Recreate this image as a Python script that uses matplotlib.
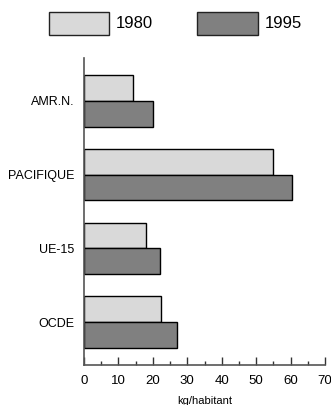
import matplotlib
matplotlib.use("Agg")
import matplotlib.pyplot as plt
from matplotlib.patches import Rectangle
from matplotlib.ticker import MultipleLocator
import numpy as np

categories = ["AMR.N.", "PACIFIQUE", "UE-15", "OCDE"]
values_1980 = [14.3, 54.8, 17.9, 22.5]
values_1995 = [20.1, 60.4, 22.2, 26.9]
series_labels = ["1980", "1995"]
xlabel = "kg/habitant"

plt.rcParams["font.family"] = ["Liberation Sans", "DejaVu Sans"]

W, H = 331, 405
fig = plt.figure(figsize=(W / 100, H / 100), dpi=100)
ax = fig.add_axes([84 / W, 40 / H, 241 / W, 307 / H])

y = np.arange(len(categories))
h = 0.35
colors = ["#d9d9d9", "#808080"]
ax.barh(y - h / 2, values_1980, height=h, color=colors[0], edgecolor="black", linewidth=1.0)
ax.barh(y + h / 2, values_1995, height=h, color=colors[1], edgecolor="black", linewidth=1.0)

ax.set_ylim(len(categories) - 1 + 0.58, -0.58)
ax.set_xlim(0, 70)
ax.set_yticks(y)
ax.set_yticklabels(categories, fontsize=9)
ax.tick_params(axis="y", length=0, pad=7)
ax.xaxis.set_major_locator(MultipleLocator(10))
ax.xaxis.set_minor_locator(MultipleLocator(5))
ax.tick_params(axis="x", which="major", direction="in", length=6, width=1, color="#333333",
               pad=7, labelsize=9.5)
ax.tick_params(axis="x", which="minor", direction="in", length=3, width=1, color="#333333")

for s in ["top", "right"]:
    ax.spines[s].set_visible(False)
for s in ["left", "bottom"]:
    ax.spines[s].set_color("#555555")
    ax.spines[s].set_linewidth(1.2)

ax.set_xlabel(xlabel, fontsize=8, labelpad=7)

# legend drawn as boxes with labels along the top
box_x = [48.5, 197]
for bx, lab, col in zip(box_x, series_labels, colors):
    fig.patches.append(Rectangle((bx / W, 1 - 35 / H), 61 / W, 23.3 / H,
                                 transform=fig.transFigure, facecolor=col,
                                 edgecolor="#222222", linewidth=1.0))
    fig.text((bx + 67.5) / W, 1 - 23.5 / H, lab, fontsize=12, va="center", ha="left")

fig.savefig("out.png", dpi=100)
